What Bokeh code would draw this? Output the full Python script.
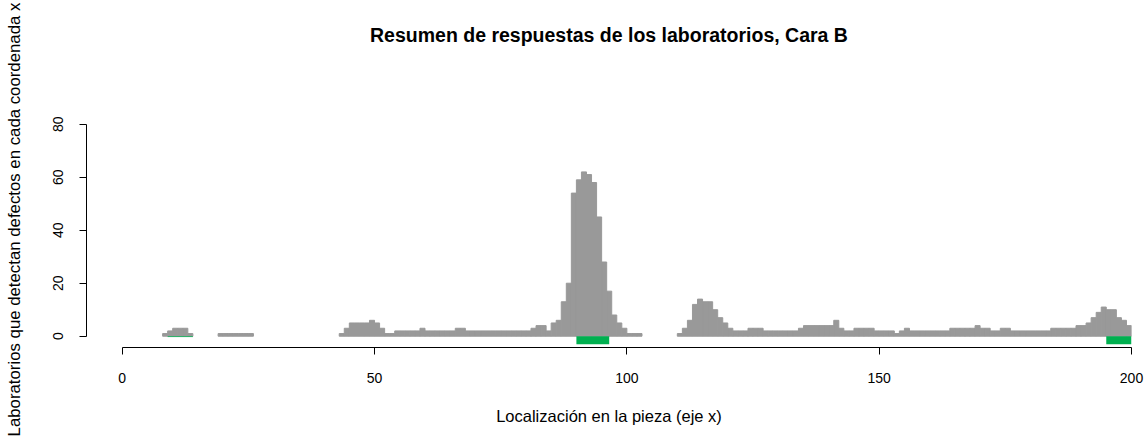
from bokeh.plotting import figure
from bokeh.models import FixedTicker, ColumnDataSource, LinearAxis
from bokeh.embed import file_html
from bokeh.resources import INLINE

# ---------------- data ----------------
counts = (
    [0] * 8 +                                   # 0-7
    [1, 2, 3, 3, 3, 1] +                        # 8-13
    [0] * 5 +                                   # 14-18
    [1] * 7 +                                   # 19-25
    [0] * 17 +                                  # 26-42
    [1, 3, 5, 5, 5, 5, 6, 5, 3, 1, 1] +         # 43-53
    [2] * 5 + [3] + [2] * 6 + [3, 3] +          # 54-67
    [2] * 13 + [3, 4, 4, 2, 5, 6] +             # 68-86
    [13, 20, 54, 59, 62, 61, 58, 45, 28, 17, 8, 5, 3] +   # 87-99
    [1, 1, 1] +                                 # 100-102
    [0] * 7 +                                   # 103-109
    [1, 3, 6, 12, 14, 13, 13, 10, 7, 5, 3] +    # 110-120
    [2, 2, 2, 3, 3, 3] + [2] * 7 +              # 121-133
    [3, 4, 4, 4, 4, 4, 4, 6, 3, 2, 2] +         # 134-144
    [3, 3, 3, 3, 2, 2, 2, 2, 1, 2, 3] +         # 145-155
    [2] * 8 + [3] * 5 + [4, 3, 3, 2, 2, 3, 3] + # 156-175
    [2] * 8 + [3] * 5 + [4, 4, 5, 7, 9, 11, 10, 10, 7, 6, 4]  # 176-199
)
bin_left = list(range(len(counts)))

defect_start = [90, 195]
defect_end = [96.5, 200]
faint_start = [9]
faint_end = [14]

x_ticks = [0, 50, 100, 150, 200]
y_ticks = [0, 20, 40, 60, 80]

title_text = "Resumen de respuestas de los laboratorios, Cara B"
x_label = "Localización en la pieza (eje x)"
y_label = "Laboratorios que detectan defectos en cada coordenada x"

# ---------------- figure ----------------
FONT = "Liberation Sans"
GRAY = "#999999"
GREEN = "#00B050"

p = figure(width=1144, height=438,
           x_range=(-7.08, 200.0), y_range=(-4.26, 92.34),
           output_backend="svg", toolbar_location=None,
           min_border_left=86, min_border_right=13,
           min_border_top=91, min_border_bottom=91)
p.title.visible = False
xaxis = p.below[0]
yaxis = p.left[0]

nz = [i for i, c in enumerate(counts) if c > 0]
src = ColumnDataSource(dict(
    left=[bin_left[i] for i in nz],
    right=[bin_left[i] + 1 for i in nz],
    top=[counts[i] for i in nz],
))
p.quad(left="left", right="right", bottom=0, top="top", source=src,
       fill_color=GRAY, line_color=GRAY, line_width=1)

p.quad(left=defect_start, right=defect_end, top=0, bottom=-3,
       fill_color=GREEN, line_color=None)
p.segment(x0=faint_start, x1=faint_end, y0=[-0.15], y1=[-0.15],
          line_color=GREEN, line_width=1, line_alpha=0.8)

p.xgrid.visible = False
p.ygrid.visible = False
p.outline_line_color = None
p.background_fill_color = "white"
p.border_fill_color = "white"

for ax in (xaxis, yaxis):
    ax.axis_line_color = "black"
    ax.axis_line_width = 1
    ax.major_tick_line_color = "black"
    ax.major_tick_out = 7
    ax.major_tick_in = 0
    ax.minor_tick_line_color = None
    ax.major_label_text_font = FONT
    ax.major_label_text_font_size = "14px"
    ax.major_label_text_color = "black"
    ax.axis_label_text_font = FONT
    ax.axis_label_text_font_size = "16.5px"
    ax.axis_label_text_font_style = "normal"
    ax.axis_label_text_color = "black"

xaxis.ticker = FixedTicker(ticks=x_ticks)
xaxis.bounds = (0, 200)
xaxis.axis_label = x_label
xaxis.major_label_standoff = 18
xaxis.axis_label_standoff = 21

yaxis.ticker = FixedTicker(ticks=y_ticks)
yaxis.bounds = (0, 80)
yaxis.axis_label = y_label
yaxis.axis_label_text_font_size = "16.8px"
yaxis.major_label_orientation = "vertical"
yaxis.major_label_standoff = 16
yaxis.axis_label_standoff = 27

# title drawn as the label of a bare axis above the plot region
title_axis = LinearAxis(ticker=FixedTicker(ticks=[]),
                        axis_label=title_text,
                        axis_line_color=None,
                        major_tick_line_color=None,
                        minor_tick_line_color=None,
                        major_label_text_font_size="0px",
                        axis_label_text_font=FONT,
                        axis_label_text_font_size="19.5px",
                        axis_label_text_font_style="bold",
                        axis_label_text_color="black",
                        axis_label_standoff=46)
p.add_layout(title_axis, "above")

open("out.html", "w").write(file_html(p, INLINE))
